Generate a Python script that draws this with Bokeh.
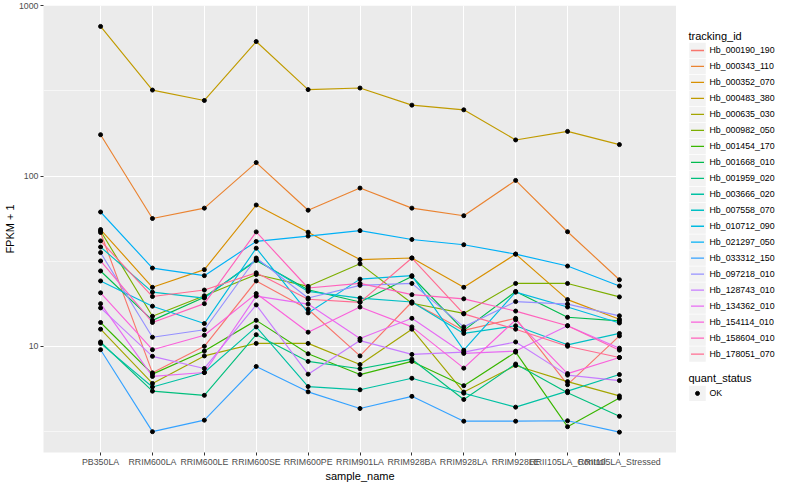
from bokeh.plotting import figure
from bokeh.models import FactorRange, Range1d, FixedTicker, NumeralTickFormatter, ColumnDataSource
from bokeh.layouts import row
from bokeh.embed import file_html
from bokeh.resources import INLINE
from bokeh.core.properties import value

FONT = "Liberation Sans"

samples = ["PB350LA", "RRIM600LA", "RRIM600LE", "RRIM600SE", "RRIM600PE", "RRIM901LA",
           "RRIM928BA", "RRIM928LA", "RRIM928LE", "RRII105LA_Control", "RRII105LA_Stressed"]

tracking_ids = ["Hb_000190_190", "Hb_000343_110", "Hb_000352_070", "Hb_000483_380", "Hb_000635_030",
                "Hb_000982_050", "Hb_001454_170", "Hb_001668_010", "Hb_001959_020", "Hb_003666_020",
                "Hb_007558_070", "Hb_010712_090", "Hb_021297_050", "Hb_033312_150", "Hb_097218_010",
                "Hb_128743_010", "Hb_134362_010", "Hb_154114_010", "Hb_158604_010", "Hb_178051_070"]

colors = ["#F8766D", "#EA8331", "#D89000", "#C09B00", "#A3A500", "#7CAE00", "#39B600", "#00BB4E",
          "#00BF7D", "#00C1A3", "#00BFC4", "#00BAE0", "#00B0F6", "#35A2FF", "#9590FF", "#C77CFF",
          "#E76BF3", "#FA62DB", "#FF62BC", "#FF6C91"]

# FPKM + 1 per sample
hb_000190_190 = [46.6, 6.98, 10.0, 24.2, 16.5, 8.78, 18.2, 12.4, 14.6, 5.95, 11.5]
hb_000343_110 = [175, 56.3, 64.8, 120, 63.0, 85.0, 64.8, 58.5, 94.3, 47.1, 24.6]
hb_000352_070 = [48.5, 22.2, 28.2, 67.6, 46.8, 32.3, 33.0, 22.2, 34.8, 18.8, 14.4]
hb_000483_380 = [757, 320, 278, 617, 322, 329, 261, 245, 163, 183, 153]
hb_000635_030 = [12.6, 6.05, 8.78, 10.4, 10.4, 7.81, 12.6, 5.38, 7.71, 6.20, 5.11]
hb_000982_050 = [47.6, 15.0, 19.8, 26.4, 22.5, 30.5, 17.9, 15.6, 23.4, 23.4, 19.5]
hb_001454_170 = [13.8, 6.86, 9.37, 14.2, 9.04, 6.82, 8.15, 5.87, 9.24, 3.37, 4.96]
hb_001668_010 = [27.7, 14.2, 19.4, 31.9, 21.5, 18.2, 25.7, 12.4, 21.0, 14.8, 14.1]
hb_001959_020 = [10.6, 5.45, 5.15, 11.7, 8.15, 7.38, 8.40, 4.87, 7.87, 5.34, 3.88]
hb_003666_020 = [10.4, 5.77, 7.01, 13.0, 5.80, 5.55, 6.49, 5.30, 4.39, 5.45, 6.82]
hb_007558_070 = [38.3, 20.8, 19.2, 32.3, 21.0, 19.2, 18.2, 11.9, 13.2, 10.2, 11.9]
hb_010712_090 = [24.2, 17.2, 13.6, 37.7, 15.7, 24.8, 26.0, 9.49, 20.8, 17.0, 13.7]
hb_021297_050 = [61.5, 28.8, 26.0, 41.3, 44.4, 47.8, 42.4, 39.5, 34.8, 29.6, 22.6]
hb_033312_150 = [9.55, 3.15, 3.68, 7.61, 5.40, 4.31, 5.08, 3.63, 3.63, 3.65, 3.13]
hb_097218_010 = [35.5, 11.3, 12.5, 33.0, 19.2, 22.8, 23.4, 13.0, 18.3, 17.7, 15.1]
hb_128743_010 = [16.8, 8.73, 7.41, 17.5, 6.86, 10.8, 8.96, 9.24, 10.6, 6.77, 6.29]
hb_134362_010 = [17.8, 6.65, 7.01, 19.7, 17.7, 11.1, 14.6, 9.08, 9.37, 13.2, 9.75]
hb_154114_010 = [20.6, 9.55, 11.6, 20.4, 12.1, 17.0, 13.0, 7.44, 14.3, 6.91, 8.59]
hb_158604_010 = [31.7, 13.8, 17.8, 47.0, 22.0, 23.4, 20.1, 19.0, 16.1, 13.2, 9.49]
hb_178051_070 = [41.6, 19.6, 21.4, 27.0, 18.9, 18.1, 33.0, 15.5, 12.6, 10.0, 8.59]

series = [hb_000190_190, hb_000343_110, hb_000352_070, hb_000483_380, hb_000635_030,
          hb_000982_050, hb_001454_170, hb_001668_010, hb_001959_020, hb_003666_020,
          hb_007558_070, hb_010712_090, hb_021297_050, hb_033312_150, hb_097218_010,
          hb_128743_010, hb_134362_010, hb_154114_010, hb_158604_010, hb_178051_070]

y_ticks = [10, 100, 1000]
y_minor = [10 ** 0.5, 10 ** 1.5, 10 ** 2.5]
quant_status = ["OK"]

# ---------------- main panel ----------------
p = figure(width=676, height=484, output_backend="svg", toolbar_location=None,
           x_range=FactorRange(*samples, range_padding=0.6, range_padding_units="absolute"),
           y_range=Range1d(10 ** 0.376, 10 ** 3.002), y_axis_type="log",
           min_border_left=30, min_border_right=0, min_border_top=5, min_border_bottom=0)
p.background_fill_color = "#EBEBEB"
p.border_fill_color = "white"
p.outline_line_color = None

p.yaxis.ticker = FixedTicker(ticks=y_ticks, minor_ticks=y_minor)
p.yaxis.formatter = NumeralTickFormatter(format="0")

for ax in (p.xaxis[0], p.yaxis[0]):
    ax.axis_line_color = None
    ax.major_tick_line_color = "#333333"
    ax.major_tick_out = 3
    ax.major_tick_in = 0
    ax.minor_tick_out = 0
    ax.minor_tick_in = 0
    ax.major_label_text_font = FONT
    ax.major_label_text_font_size = "8.8px"
    ax.major_label_text_color = "#4D4D4D"
    ax.major_label_standoff = 1
    ax.axis_label_text_font = FONT
    ax.axis_label_text_font_size = "11px"
    ax.axis_label_text_font_style = "normal"
    ax.axis_label_text_color = "black"
    ax.axis_label_standoff = 0

p.yaxis.major_label_standoff = 2
p.xaxis.axis_label = "sample_name"
p.yaxis.axis_label = "FPKM + 1"

p.xgrid.grid_line_color = "white"
p.xgrid.grid_line_width = 1.1
p.ygrid.grid_line_color = "white"
p.ygrid.grid_line_width = 1.1
p.ygrid.minor_grid_line_color = "white"
p.ygrid.minor_grid_line_width = 0.55

for vals, col in zip(series, colors):
    p.line(x=samples, y=vals, line_color=col, line_width=1.15)
for vals in series:
    p.scatter(x=samples, y=vals, size=4, marker="circle", fill_color="black", line_color="black")

# ---------------- legend panel ----------------
lg = figure(width=108, height=484, output_backend="svg", toolbar_location=None,
            x_range=Range1d(0, 108), y_range=Range1d(484, 0),
            min_border=0, min_border_left=0, min_border_right=0, min_border_top=0, min_border_bottom=0)
lg.axis.visible = False
lg.grid.visible = False
lg.outline_line_color = None
lg.background_fill_color = "white"
lg.border_fill_color = "white"

n = len(tracking_ids)
item_y = [48.7 + 17.3 * i for i in range(n)]
src = ColumnDataSource(dict(
    y=item_y, name=tracking_ids, color=colors,
    kx=[21] * n, x0=[14.5] * n, x1=[27.5] * n, tx=[33] * n))
lg.rect(x="kx", y="y", width=16.5, height=16.5, source=src, fill_color="#F2F2F2", line_color=None)
lg.segment(x0="x0", y0="y", x1="x1", y1="y", source=src, line_color="color", line_width=1.3)
lg.text(x="tx", y="y", text="name", source=src, text_font=value(FONT), text_font_size="8.8px",
        text_baseline="middle", text_align="left", text_color="black")
lg.text(x=[12], y=[32.7], text=["tracking_id"], text_font=value(FONT), text_font_size="11px",
        text_baseline="middle", text_align="left", text_color="black")

lg.text(x=[12], y=[403], text=["quant_status"], text_font=value(FONT), text_font_size="11px",
        text_baseline="middle", text_align="left", text_color="black")
lg.rect(x=[21], y=[420], width=16.5, height=16.5, fill_color="#F2F2F2", line_color=None)
lg.scatter(x=[21], y=[420], size=4, marker="circle", fill_color="black", line_color="black")
lg.text(x=[33], y=[420], text=quant_status, text_font=value(FONT), text_font_size="8.8px",
        text_baseline="middle", text_align="left", text_color="black")

layout = row(p, lg)
open("out.html", "w").write(file_html(layout, INLINE))
